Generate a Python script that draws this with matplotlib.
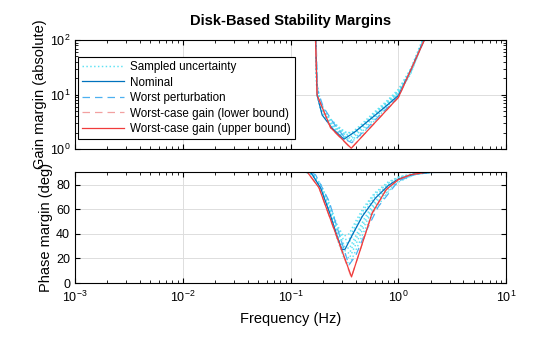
import numpy as np
import matplotlib.pyplot as plt
from matplotlib.ticker import LogLocator, NullFormatter

plt.rcParams['font.family'] = ['Liberation Sans', 'DejaVu Sans']

# nominal disk margins
nom_gain_f = [0.10, 0.166, 0.176, 0.196, 0.243, 0.312, 0.40, 0.551, 0.75, 1.0, 1.34, 1.72, 2.5]
nom_gain = [1e3, 1e3, 9.8, 4.2, 2.4, 1.51, 2.1, 3.55, 5.9, 9.6, 32, 100, 1e3]
nom_phase_f = [0.001, 0.14, 0.155, 0.19, 0.23, 0.27, 0.30, 0.32, 0.373, 0.461, 0.612, 0.8, 1.0, 1.4, 2.0, 10]
nom_phase = [90, 90, 89.5, 77, 57, 38, 27, 27.5, 39, 54, 69, 79, 84.5, 88.5, 89.8, 90]

# worst perturbation
wp_gain_f = [0.10, 0.166, 0.178, 0.20, 0.25, 0.33, 0.37, 0.5, 0.7, 1.0, 1.74, 2.5]
wp_gain = [1e3, 1e3, 12, 6.0, 3.0, 1.45, 1.3, 2.3, 4.5, 9.0, 100, 1e3]
wp_phase_f = [0.001, 0.15, 0.17, 0.227, 0.28, 0.347, 0.40, 0.5, 0.65, 1.0, 1.5, 2.0, 10]
wp_phase = [90, 90, 88, 66.6, 40.6, 14.7, 22, 42, 62, 83, 89, 90, 90]

# worst-case gain bounds
lb_gain_f = [0.10, 0.165, 0.176, 0.235, 0.362, 1.0, 1.73, 2.5]
lb_gain = [1e3, 1e3, 9.6, 2.42, 1.02, 8.8, 100, 1e3]
lb_phase_f = [0.001, 0.143, 0.183, 0.365, 0.57, 0.77, 1.0, 1.3, 1.84, 10]
lb_phase = [90, 90, 77.5, 4.6, 56.5, 75.6, 84, 88, 90, 90]

ub_gain_f = [0.10, 0.165, 0.176, 0.235, 0.365, 1.0, 1.74, 2.5]
ub_gain = [1e3, 1e3, 9.8, 2.46, 1.03, 8.9, 100, 1e3]
ub_phase_f = [0.001, 0.143, 0.183, 0.367, 0.57, 0.77, 1.0, 1.3, 1.84, 10]
ub_phase = [90, 90, 77.5, 5.0, 56.8, 75.9, 84.1, 88, 90, 90]

# sampled uncertainty
smp_gain_f = [0.10, 0.166, 0.175, 0.19, 0.22, 0.27, 0.32, 0.37, 0.45, 0.6, 0.8, 1.0, 1.3, 1.7, 2.5]
smp_gain = [
    [1e3, 1e3, 14, 6.5, 3.9, 2.6, 2.0, 2.0, 2.8, 4.8, 8.0, 12.5, 30, 110, 1e3],
    [1e3, 1e3, 12, 6.0, 3.6, 2.4, 1.85, 1.85, 2.6, 4.5, 7.5, 11.8, 28, 105, 1e3],
    [1e3, 1e3, 16, 7.0, 4.1, 2.6, 1.8, 1.7, 2.4, 4.2, 7.2, 11.2, 26, 100, 1e3],
    [1e3, 1e3, 11, 5.5, 3.3, 2.2, 1.6, 1.45, 2.0, 3.6, 6.6, 10.5, 25, 96, 1e3],
    [1e3, 1e3, 13, 6.2, 3.5, 2.3, 1.7, 1.55, 2.2, 3.9, 6.9, 10.8, 26, 98, 1e3],
    [1e3, 1e3, 10, 5.2, 3.2, 2.1, 1.55, 1.38, 1.8, 3.3, 6.2, 10.0, 24, 95, 1e3],
    [1e3, 1e3, 15, 6.8, 4.0, 2.7, 2.05, 1.95, 2.5, 4.4, 7.6, 11.5, 27, 102, 1e3],
]
smp_phase_f = [0.001, 0.14, 0.16, 0.19, 0.23, 0.27, 0.31, 0.35, 0.4, 0.48, 0.6, 0.8, 1.0, 1.4, 2.0, 10]
smp_phase = [
    [90, 90, 89, 80, 64, 47, 38, 40, 50, 62, 73, 82, 86, 89, 90, 90],
    [90, 90, 88, 78, 60, 42, 32, 33, 44, 57, 70, 80, 85, 88.5, 90, 90],
    [90, 90, 88.5, 79, 62, 44, 30, 28, 38, 52, 66, 78, 84, 88.5, 90, 90],
    [90, 90, 88, 77, 58, 38, 24, 20, 31, 46, 62, 75, 83, 88, 90, 90],
    [90, 90, 88, 78, 59, 40, 27, 24, 35, 49, 64, 77, 84, 88, 90, 90],
    [90, 90, 87.5, 76, 56, 36, 21, 15, 26, 42, 59, 74, 82, 88, 90, 90],
    [90, 90, 89, 80, 63, 46, 35, 36, 47, 60, 72, 81, 86, 89, 90, 90],
]

c_smp = '#5DE2F4'
c_nom = '#0072BD'
c_wp = '#4DB0F0'
c_lb = '#F2A0A0'
c_ub = '#F03B3B'
lw = 0.9

fig = plt.figure(figsize=(5.6, 3.37), dpi=100)
ax1 = fig.add_axes([0.134, 0.558, 0.770, 0.323])
ax2 = fig.add_axes([0.134, 0.160, 0.770, 0.329])

for ax, sf, sv, nf, nv, wf, wv, lf, lv, uf, uv in [
        (ax1, smp_gain_f, smp_gain, nom_gain_f, nom_gain, wp_gain_f, wp_gain,
         lb_gain_f, lb_gain, ub_gain_f, ub_gain),
        (ax2, smp_phase_f, smp_phase, nom_phase_f, nom_phase, wp_phase_f, wp_phase,
         lb_phase_f, lb_phase, ub_phase_f, ub_phase)]:
    for i, row in enumerate(sv):
        ax.plot(sf, row, ls=':', color=c_smp, lw=1.05,
                label='Sampled uncertainty' if i == 0 else None)
    ax.plot(nf, nv, color=c_nom, lw=lw, label='Nominal')
    ax.plot(wf, wv, ls=(0, (6, 4)), color=c_wp, lw=lw, label='Worst perturbation')
    ax.plot(lf, lv, ls=(0, (6, 4)), color=c_lb, lw=lw, label='Worst-case gain (lower bound)')
    ax.plot(uf, uv, color=c_ub, lw=lw, label='Worst-case gain (upper bound)')
    ax.set_xscale('log')
    ax.set_xlim(1e-3, 10)
    ax.grid(True, which='major', color='#DDDDDD', lw=0.7)
    ax.set_axisbelow(True)
    ax.tick_params(which='both', direction='in', top=True, right=True, labelsize=9)
    ax.tick_params(which='major', length=3.5)
    ax.tick_params(which='minor', length=2)
    ax.xaxis.set_minor_locator(LogLocator(base=10, subs=np.arange(2, 10), numticks=20))
    for s in ax.spines.values():
        s.set_linewidth(0.8)

ax1.set_yscale('log')
ax1.set_ylim(1, 100)
ax1.yaxis.set_minor_locator(LogLocator(base=10, subs=np.arange(2, 10), numticks=20))
ax1.yaxis.set_minor_formatter(NullFormatter())
ax1.xaxis.set_minor_formatter(NullFormatter())
ax1.set_xticklabels([])
ax1.set_ylabel('Gain margin (absolute)', fontsize=10.5, labelpad=2)
ax1.set_title('Disk-Based Stability Margins', fontsize=10.5, fontweight='bold', pad=11)
leg = ax1.legend(loc='upper left', bbox_to_anchor=(0.007, 0.845), fontsize=8.4,
                 frameon=True, fancybox=False, edgecolor='black', framealpha=1,
                 borderpad=0.35, labelspacing=0.3, handlelength=3.6,
                 handletextpad=0.5, borderaxespad=0)
leg.get_frame().set_linewidth(0.8)

ax2.set_ylim(0, 90)
ax2.set_yticks([0, 20, 40, 60, 80])
ax2.xaxis.set_minor_formatter(NullFormatter())
ax2.set_xticks([1e-3, 1e-2, 1e-1, 1, 10])
ax2.tick_params(axis='x', which='major', pad=5)
ax2.set_ylabel('Phase margin (deg)', fontsize=10.5, labelpad=2)
ax2.set_xlabel('Frequency (Hz)', fontsize=10.5, labelpad=5)

fig.savefig('out.png', dpi=100)
